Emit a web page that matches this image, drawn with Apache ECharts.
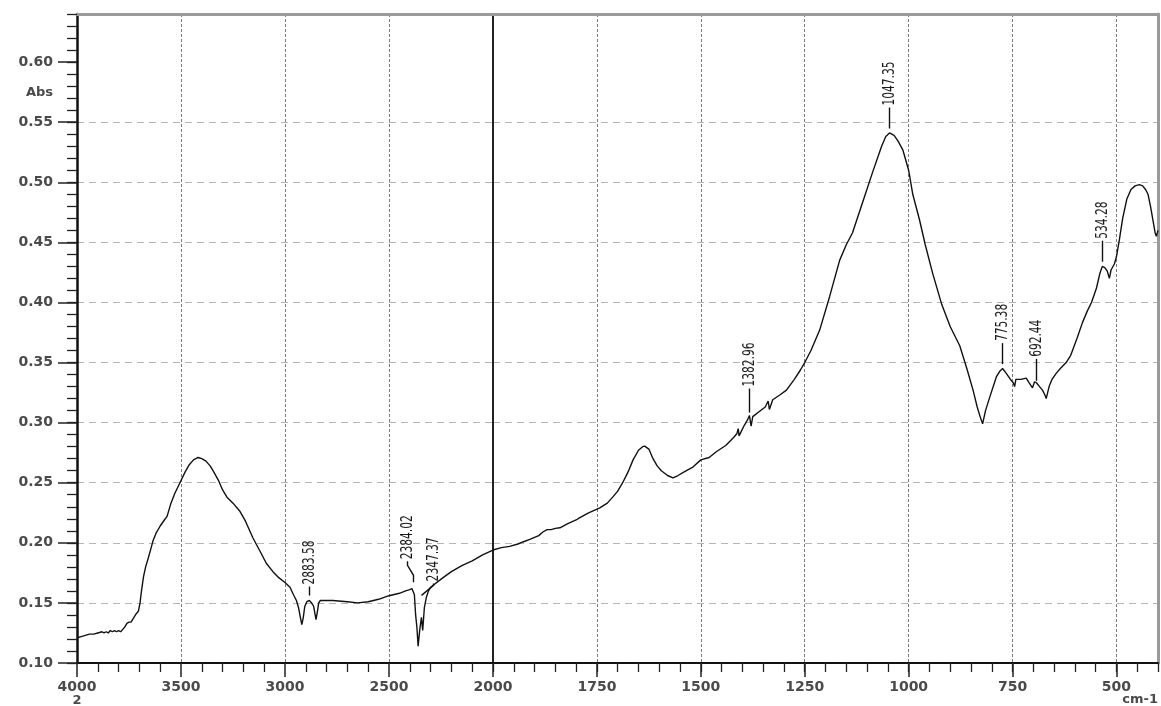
<!DOCTYPE html>
<html>
<head>
<meta charset="utf-8">
<title>FTIR absorbance spectrum</title>
<script src="https://cdn.jsdelivr.net/npm/echarts@6/dist/echarts.min.js"></script>
<style>
  html, body { margin: 0; padding: 0; background: #ffffff; }
  #chart { width: 1161px; height: 706px; }
</style>
</head>
<body>
<div id="chart"></div>
<script>
// High-wavenumber segment (4000 - 2000 cm-1), absorbance
const highWavenumbers = [
  4000, 3980, 3960, 3940, 3920, 3900, 3880, 3870, 3860, 3850, 3840, 3830, 3820, 3810, 3800, 3790,
  3780, 3770, 3760, 3750, 3740, 3730, 3715, 3705, 3697, 3690, 3680, 3670, 3658, 3645, 3634, 3620,
  3600, 3580, 3567, 3550, 3530, 3505, 3480, 3460, 3440, 3418, 3400, 3380, 3360, 3346, 3320, 3300,
  3279, 3250, 3216, 3190, 3154, 3120, 3090, 3058, 3030, 3000, 2976, 2960, 2945, 2935, 2925, 2919,
  2912, 2905, 2895, 2883, 2872, 2862, 2855, 2851, 2845, 2838, 2830, 2800, 2770, 2700, 2650, 2600,
  2550, 2500, 2450, 2420, 2400, 2390, 2384, 2378, 2372, 2366, 2360, 2352, 2344, 2338, 2330, 2320,
  2310, 2300, 2240, 2200, 2150, 2100, 2050, 2000
];
const highAbsorbance = [
  0.121, 0.122, 0.123, 0.124, 0.124, 0.125, 0.126, 0.125, 0.126, 0.125, 0.127, 0.126, 0.127, 0.126, 0.127, 0.126,
  0.128, 0.130, 0.133, 0.134, 0.134, 0.137, 0.141, 0.143, 0.150, 0.160, 0.172, 0.180, 0.187, 0.195, 0.202, 0.208,
  0.214, 0.219, 0.222, 0.232, 0.241, 0.250, 0.259, 0.265, 0.269, 0.271, 0.270, 0.268, 0.264, 0.260, 0.252, 0.244,
  0.238, 0.233, 0.226, 0.218, 0.204, 0.193, 0.183, 0.176, 0.171, 0.167, 0.163, 0.157, 0.152, 0.146, 0.137, 0.132,
  0.138, 0.147, 0.151, 0.152, 0.150, 0.147, 0.140, 0.136, 0.142, 0.150, 0.152, 0.152, 0.152, 0.151, 0.150, 0.151,
  0.153, 0.156, 0.158, 0.160, 0.161, 0.162, 0.163, 0.157, 0.140, 0.130, 0.114, 0.128, 0.138, 0.127, 0.146, 0.155,
  0.160, 0.163, 0.171, 0.176, 0.181, 0.185, 0.190, 0.194
];

// Low-wavenumber segment (2000 - 400 cm-1), absorbance
const lowWavenumbers = [
  2000, 1980, 1960, 1940, 1928, 1910, 1890, 1880, 1870, 1860, 1850, 1839, 1820, 1800, 1791, 1770,
  1743, 1725, 1712, 1700, 1688, 1675, 1663, 1650, 1640, 1635, 1625, 1615, 1605, 1595, 1580, 1567,
  1555, 1540, 1519, 1500, 1480, 1462, 1440, 1420, 1413, 1410, 1408, 1395, 1388, 1383, 1379, 1375,
  1360, 1345, 1338, 1335, 1327, 1310, 1294, 1275, 1260, 1250, 1235, 1214, 1190, 1166, 1150, 1135,
  1110, 1087, 1065, 1055, 1046, 1035, 1025, 1014, 1000, 990, 974, 960, 942, 920, 900, 877,
  860, 845, 835, 828, 822, 815, 805, 789, 780, 774, 765, 755, 748, 745, 742, 730,
  717, 710, 702, 697, 692, 685, 678, 672, 669, 662, 655, 645, 635, 621, 610, 595,
  582, 570, 560, 548, 540, 534, 528, 522, 517, 513, 505, 500, 493, 485, 475, 465,
  455, 445, 437, 430, 424, 418, 412, 407, 404, 400
];
const lowAbsorbance = [
  0.194, 0.196, 0.197, 0.199, 0.2007, 0.203, 0.206, 0.209, 0.211, 0.211, 0.212, 0.2125, 0.216, 0.219, 0.221, 0.225,
  0.229, 0.233, 0.238, 0.243, 0.250, 0.259, 0.269, 0.277, 0.280, 0.2805, 0.278, 0.270, 0.264, 0.260, 0.256, 0.254,
  0.256, 0.259, 0.263, 0.269, 0.271, 0.276, 0.281, 0.288, 0.291, 0.295, 0.289, 0.298, 0.302, 0.306, 0.297, 0.305,
  0.309, 0.313, 0.318, 0.311, 0.319, 0.323, 0.327, 0.336, 0.344, 0.350, 0.360, 0.377, 0.405, 0.435, 0.448, 0.458,
  0.484, 0.508, 0.530, 0.538, 0.541, 0.539, 0.534, 0.527, 0.510, 0.490, 0.469, 0.448, 0.424, 0.398, 0.380, 0.364,
  0.345, 0.327, 0.313, 0.305, 0.299, 0.310, 0.321, 0.338, 0.343, 0.345, 0.341, 0.336, 0.333, 0.330, 0.336, 0.336,
  0.337, 0.333, 0.329, 0.334, 0.333, 0.330, 0.327, 0.323, 0.320, 0.330, 0.336, 0.341, 0.345, 0.350, 0.356, 0.370,
  0.383, 0.393, 0.400, 0.412, 0.424, 0.430, 0.429, 0.426, 0.420, 0.427, 0.432, 0.438, 0.452, 0.470, 0.486, 0.494,
  0.497, 0.498, 0.497, 0.494, 0.490, 0.480, 0.468, 0.458, 0.455, 0.460
];

// Picked peak positions (cm-1)
const peakPositions = [2883.58, 2384.02, 2347.37, 1382.96, 1047.35, 775.38, 692.44, 534.28];

// Axis tick labels
const absTicks = [0.10, 0.15, 0.20, 0.25, 0.30, 0.35, 0.40, 0.45, 0.50, 0.55, 0.60];
const highTicks = [4000, 3500, 3000, 2500, 2000];
const lowTicks = [2000, 1750, 1500, 1250, 1000, 750, 500];

const allWn = highWavenumbers.concat(lowWavenumbers.slice(1));
const allAbs = highAbsorbance.concat(lowAbsorbance.slice(1));

// absorbance on the trace at a given wavenumber (linear between stored points)
function absAt(wn) {
  for (let i = 0; i < allWn.length - 1; i++) {
    const a = allWn[i], b = allWn[i + 1];
    if (wn <= a && wn >= b) {
      const t = (a - wn) / (a - b);
      return allAbs[i] + t * (allAbs[i + 1] - allAbs[i]);
    }
  }
  return allAbs[allAbs.length - 1];
}

const pairs = (xs, ys) => xs.map((x, i) => [x, ys[i]]);
const highPeaks = peakPositions.filter(p => p >= 2000).map(p => [p, absAt(p)]);
const lowPeaks = peakPositions.filter(p => p < 2000).map(p => [p, absAt(p)]);

// leader-line shapes for the peak markers (pixels); default is a straight stub
const leaderShape = {
  '2883.58': { len: 9 },
  '2384.02': { len: 7, dx: -6, rise: 10, tail: 4 },
  '2347.37': { gap: 27, len: 0, dx: 12, rise: 10, tail: 2 },
  '1382.96': { gap: 3, len: 24 },
  '692.44': { gap: 2, len: 22 }
};

function renderPeak(params, api) {
  const wn = api.value(0);
  const p = api.coord([wn, api.value(1)]);
  const label = wn.toFixed(2);
  const s = Object.assign({ gap: 5, len: 21, dx: 0, rise: 0, tail: 0 }, leaderShape[label] || {});
  const x = Math.round(p[0]) + 0.5;
  const y0 = p[1] - s.gap;
  const y1 = y0 - s.len;
  const y2 = y1 - s.rise;
  const y3 = y2 - s.tail;
  const pts = [[x, y0], [x, y1], [x + s.dx, y2], [x + s.dx, y3]];
  return {
    type: 'group',
    children: [
      {
        type: 'polyline',
        shape: { points: pts },
        style: { stroke: '#111', lineWidth: 1.4, fill: null }
      },
      {
        type: 'text',
        x: x + s.dx,
        y: y3 - 2,
        rotation: Math.PI / 2,
        scaleX: 0.74,
        style: {
          text: label,
          fill: '#1a1a1a',
          fontSize: 16,
          fontFamily: "'Liberation Sans Narrow', 'DejaVu Sans Condensed', 'Liberation Sans', sans-serif",
          align: 'left',
          verticalAlign: 'middle'
        }
      }
    ]
  };
}

const axisFont = { fontFamily: "'DejaVu Sans', sans-serif", fontSize: 14, fontWeight: 'bold', color: '#4a4a4a' };
const plainNumber = v => String(v);
const hDash = { color: '#b5b5b5', type: [7, 5], width: 1.2 };
const vDash = { color: '#7a7a7a', type: [3, 2], width: 1 };

const chart = echarts.init(document.getElementById('chart'), null, { renderer: 'canvas' });

chart.setOption({
  animation: false,
  backgroundColor: '#ffffff',
  grid: [
    { left: 77, top: 14, width: 416, height: 649, containLabel: false },
    { left: 493, top: 14, width: 665, height: 649, containLabel: false }
  ],
  xAxis: [
    // 4000 - 2000 bottom axis
    {
      type: 'value', gridIndex: 0, position: 'bottom', min: 2000, max: 4000, interval: 500, inverse: true,
      axisLine: { lineStyle: { color: '#111', width: 2 } },
      axisTick: { length: 14, lineStyle: { color: '#222', width: 1.5 } },
      minorTick: { show: true, splitNumber: 5, length: 9, lineStyle: { color: '#222', width: 1.3 } },
      axisLabel: Object.assign({ margin: 17, showMinLabel: false, formatter: plainNumber }, axisFont),
      splitLine: { show: true, showMinLine: false, showMaxLine: false, lineStyle: vDash }
    },
    // top frame, left part
    {
      type: 'value', gridIndex: 0, position: 'top', min: 2000, max: 4000, inverse: true,
      axisLine: { lineStyle: { color: '#9a9a9a', width: 3 } },
      axisTick: { show: false }, axisLabel: { show: false }, splitLine: { show: false }
    },
    // 2000 - 400 minor ticks every 50
    {
      type: 'value', gridIndex: 1, position: 'bottom', min: 400, max: 2000, interval: 50, inverse: true,
      axisLine: { lineStyle: { color: '#111', width: 2 } },
      axisTick: { length: 9, lineStyle: { color: '#222', width: 1.3 } },
      axisLabel: { show: false }, splitLine: { show: false }
    },
    // 2000 - 400 major ticks, labels and grid
    {
      type: 'value', gridIndex: 1, position: 'bottom', min: 400, max: 2000, inverse: true,
      axisLine: { show: false },
      axisTick: { length: 14, customValues: lowTicks.slice(1), lineStyle: { color: '#222', width: 1.5 } },
      axisLabel: Object.assign({ margin: 17, customValues: lowTicks, formatter: plainNumber }, axisFont),
      splitLine: { show: true, lineStyle: vDash }
    },
    // top frame, right part
    {
      type: 'value', gridIndex: 1, position: 'top', min: 400, max: 2000, inverse: true,
      axisLine: { lineStyle: { color: '#9a9a9a', width: 3 } },
      axisTick: { show: false }, axisLabel: { show: false }, splitLine: { show: false }
    }
  ],
  yAxis: [
    // absorbance axis with labels
    {
      type: 'value', gridIndex: 0, position: 'left', min: 0.10, max: 0.64, interval: 0.05,
      axisLine: { lineStyle: { color: '#111', width: 2.5 } },
      axisTick: { length: 19, customValues: absTicks, lineStyle: { color: '#222', width: 1.5 } },
      axisLabel: Object.assign({ margin: 24, customValues: absTicks, formatter: v => v.toFixed(2) }, axisFont),
      splitLine: { show: true, showMinLine: false, showMaxLine: false, lineStyle: hDash }
    },
    // absorbance minor ticks every 0.01
    {
      type: 'value', gridIndex: 0, position: 'left', min: 0.10, max: 0.64, interval: 0.01,
      axisLine: { show: false },
      axisTick: { length: 10, lineStyle: { color: '#222', width: 1.3 } },
      axisLabel: { show: false }, splitLine: { show: false }
    },
    // solid divider at 2000 cm-1 and horizontal grid on the right part
    {
      type: 'value', gridIndex: 1, position: 'left', min: 0.10, max: 0.64, interval: 0.05,
      axisLine: { lineStyle: { color: '#222', width: 2 } },
      axisTick: { show: false, customValues: absTicks },
      axisLabel: { show: false },
      splitLine: { show: true, showMinLine: false, showMaxLine: false, lineStyle: hDash }
    },
    // right frame
    {
      type: 'value', gridIndex: 1, position: 'right', min: 0.10, max: 0.64,
      axisLine: { lineStyle: { color: '#9a9a9a', width: 3 } },
      axisTick: { show: false }, axisLabel: { show: false }, splitLine: { show: false }
    }
  ],
  series: [
    {
      type: 'line', xAxisIndex: 0, yAxisIndex: 0, data: pairs(highWavenumbers, highAbsorbance),
      showSymbol: false, symbol: 'none', smooth: false,
      lineStyle: { color: '#111', width: 1.4 }, z: 5
    },
    {
      type: 'line', xAxisIndex: 2, yAxisIndex: 2, data: pairs(lowWavenumbers, lowAbsorbance),
      showSymbol: false, symbol: 'none', smooth: false,
      lineStyle: { color: '#111', width: 1.4 }, z: 5
    },
    { type: 'custom', xAxisIndex: 0, yAxisIndex: 0, data: highPeaks, renderItem: renderPeak, z: 6 },
    { type: 'custom', xAxisIndex: 2, yAxisIndex: 2, data: lowPeaks, renderItem: renderPeak, z: 6 }
  ],
  graphic: [
    { type: 'text', x: 53, y: 93, style: { text: 'Abs', align: 'right', verticalAlign: 'middle', fill: '#4a4a4a', font: "bold 13px 'DejaVu Sans', sans-serif" } },
    { type: 'text', x: 1158, y: 700, style: { text: 'cm-1', align: 'right', verticalAlign: 'middle', fill: '#4a4a4a', font: "bold 13px 'DejaVu Sans', sans-serif" } },
    { type: 'text', x: 77, y: 701, style: { text: '2', align: 'center', verticalAlign: 'middle', fill: '#4a4a4a', font: "bold 13px 'DejaVu Sans', sans-serif" } }
  ]
});
</script>
</body>
</html>
